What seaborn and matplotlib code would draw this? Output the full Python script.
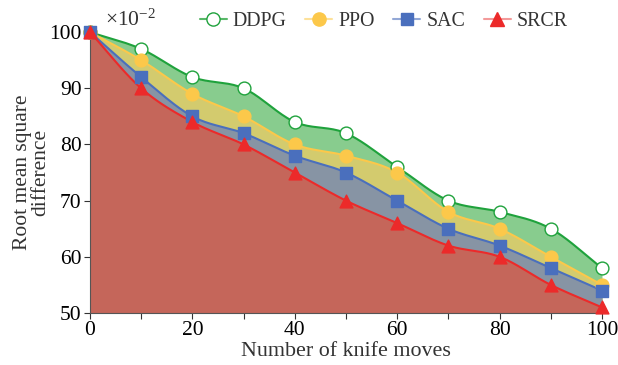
import numpy as np
import pandas as pd
import matplotlib
matplotlib.use("Agg")
import matplotlib.pyplot as plt
import seaborn as sns
from matplotlib.ticker import MultipleLocator
from matplotlib.lines import Line2D

moves = [0, 10, 20, 30, 40, 50, 60, 70, 80, 90, 100]
ddpg = [100, 97, 92, 90, 84, 82, 76, 70, 68, 65, 58]
ppo = [100, 95, 89, 85, 80, 78, 75, 68, 65, 60, 55]
sac = [100, 92, 85, 82, 78, 75, 70, 65, 62, 58, 54]
srcr = [100, 90, 84, 80, 75, 70, 66, 62, 60, 55, 51]
names = ["DDPG", "PPO", "SAC", "SRCR"]

sns.set_theme(style="ticks")
plt.rcParams['font.family'] = ['Liberation Serif', 'DejaVu Serif']
plt.rcParams['mathtext.fontset'] = 'custom'
plt.rcParams['mathtext.rm'] = 'Liberation Serif'
plt.rcParams['mathtext.it'] = 'Liberation Serif:italic'

def smooth(x, y, n=20):
    x = np.asarray(x, float); y = np.asarray(y, float)
    m = np.zeros_like(y)
    m[1:-1] = (y[2:] - y[:-2]) / (x[2:] - x[:-2])
    m[0] = (y[1] - y[0]) / (x[1] - x[0])
    m[-1] = (y[-1] - y[-2]) / (x[-1] - x[-2])
    xs, ys = [], []
    for i in range(len(x) - 1):
        h = x[i+1] - x[i]
        t = np.linspace(0, 1, n, endpoint=(i == len(x) - 2))
        h00 = 2*t**3 - 3*t**2 + 1; h10 = t**3 - 2*t**2 + t
        h01 = -2*t**3 + 3*t**2; h11 = t**3 - t**2
        xs.append(x[i] + t*h)
        ys.append(h00*y[i] + h10*h*m[i] + h01*y[i+1] + h11*h*m[i+1])
    return np.concatenate(xs), np.concatenate(ys)

df = pd.DataFrame({"moves": moves, "DDPG": ddpg, "PPO": ppo, "SAC": sac, "SRCR": srcr})
long = df.melt(id_vars="moves", var_name="method", value_name="rmsd")

line_colors = {"DDPG": "#1fa23c", "PPO": "#fcc84a", "SAC": "#4a6fbd", "SRCR": "#ec2a2a"}
fill_colors = {"DDPG": "#88cc8e", "PPO": "#d3cb6e", "SAC": "#8794a4", "SRCR": "#c5665a"}
leg_line = {"DDPG": "#58b868", "PPO": "#fde19a", "SAC": "#93a8d6", "SRCR": "#f39a9a"}
markers = {"DDPG": "o", "PPO": "o", "SAC": "s", "SRCR": "^"}
mfc = {"DDPG": "white", "PPO": "#fcc84a", "SAC": "#4a6fbd", "SRCR": "#ec2a2a"}

fig = plt.figure(figsize=(6.18, 3.65), dpi=100)
ax = fig.add_axes([0.1456, 0.1425, 0.8285, 0.7695])

for nm in names:
    xs, ys = smooth(df["moves"], df[nm])
    ax.fill_between(xs, ys, 50, color=fill_colors[nm], lw=0, zorder=1)
for nm in names:
    xs, ys = smooth(df["moves"], df[nm])
    ax.plot(xs, ys, color=line_colors[nm], lw=1.5, zorder=3)

for nm in names:
    sub = long[long.method == nm]
    sns.scatterplot(data=sub, x="moves", y="rmsd", ax=ax, marker=markers[nm],
                    s=85 if nm != "SAC" else 75, color=mfc[nm],
                    edgecolor=line_colors[nm], linewidth=1.0, zorder=5, clip_on=False, legend=False)

ax.set_xlim(0, 100)
ax.set_ylim(50, 100)
ax.xaxis.set_major_locator(MultipleLocator(20))
ax.xaxis.set_minor_locator(MultipleLocator(10))
ax.yaxis.set_major_locator(MultipleLocator(10))
ax.tick_params(axis='both', which='major', direction='out', length=4, width=0.8, labelsize=15.5,
               colors='#333333', labelcolor='black', pad=2)
ax.tick_params(axis='x', which='minor', direction='out', length=4, width=0.8, colors='#333333')
for s in ["top", "right"]:
    ax.spines[s].set_visible(False)
for s in ["left", "bottom"]:
    ax.spines[s].set_color('#555555')
    ax.spines[s].set_linewidth(0.8)
ax.set_xlabel("Number of knife moves", fontsize=15.8, labelpad=1, color='#333333')
ax.set_ylabel("Root mean square\ndifference", fontsize=15.5, color='#333333', labelpad=-1, linespacing=0.95)
fig.text(0.17, 0.929, r"$\times\mathrm{10}^{\mathrm{-2}}$", fontsize=15.5, ha='left', va='baseline', color='#333333')

handles = []
for nm in names:
    handles.append(Line2D([0], [0], color=leg_line[nm], lw=1.5, marker=markers[nm],
                          markersize=9.5 if nm != "SAC" else 9,
                          markerfacecolor=mfc[nm], markeredgecolor=line_colors[nm]))
fig.legend(handles, names, loc='center', bbox_to_anchor=(0.621, 0.942), ncol=4, frameon=False,
           fontsize=14.3, handlelength=1.35, columnspacing=0.95, handletextpad=0.3,
           labelcolor='#333333')

fig.savefig("out.png", dpi=100)
